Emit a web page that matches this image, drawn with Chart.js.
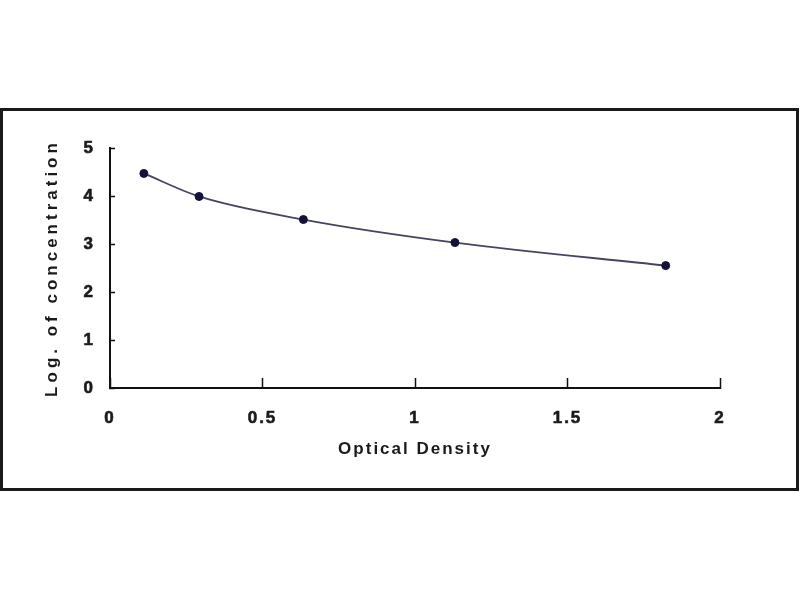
<!DOCTYPE html>
<html>
<head>
<meta charset="utf-8">
<script src="https://cdn.jsdelivr.net/npm/chart.js@4.4.1/dist/chart.umd.min.js"></script>
<style>
  html, body { margin: 0; padding: 0; background: #fff; }
  #wrap { position: absolute; left: 0; top: 0; width: 800px; height: 600px; }
</style>
</head>
<body>
<div id="wrap"><canvas id="c" width="800" height="600"></canvas></div>
<script>
// Data
const opticalDensity = [0.111, 0.292, 0.634, 1.131, 1.822];
const logConcentration = [4.47, 3.99, 3.51, 3.03, 2.55];
const xTickValues = [0, 0.5, 1, 1.5, 2];
const yTickValues = [0, 1, 2, 3, 4, 5];
const xTitle = 'Optical Density';
const yTitle = 'Log. of concentration';

const points = opticalDensity.map((x, i) => ({ x: x, y: logConcentration[i] }));

const FONT = '"Liberation Sans", Arial, Helvetica, sans-serif';

const framePlugin = {
  id: 'frame',
  beforeDraw(chart) {
    const ctx = chart.ctx;
    ctx.save();
    ctx.fillStyle = '#fff';
    ctx.fillRect(0, 0, chart.width, chart.height);
    ctx.strokeStyle = '#1a1a1a';
    ctx.lineWidth = 3;
    ctx.strokeRect(1.5, 109.5, 796, 380);
    ctx.restore();
    ctx.letterSpacing = '2px';
    const ys = chart.scales.y;
    if (ys && !ys._wrappedTitle) {
      const orig = ys.drawTitle.bind(ys);
      ys.drawTitle = function () {
        const prev = chart.ctx.letterSpacing;
        chart.ctx.letterSpacing = '4px';
        orig();
        chart.ctx.letterSpacing = prev;
      };
      ys._wrappedTitle = true;
    }
  },
  afterDraw(chart) {
    chart.ctx.letterSpacing = '0px';
  }
};

new Chart(document.getElementById('c'), {
  type: 'scatter',
  data: {
    datasets: [{
      data: points,
      showLine: true,
      borderColor: '#45455f',
      borderWidth: 1.8,
      cubicInterpolationMode: 'monotone',
      pointStyle: 'circle',
      pointRadius: 4,
      pointBackgroundColor: '#12123a',
      pointBorderColor: '#12123a',
      pointBorderWidth: 1,
      clip: false
    }]
  },
  options: {
    responsive: false,
    animation: false,
    devicePixelRatio: 1,
    layout: { padding: { top: 148, left: 30, right: 80, bottom: 132 } },
    plugins: { legend: { display: false }, tooltip: { enabled: false } },
    scales: {
      x: {
        type: 'linear',
        min: 0, max: 2,
        afterBuildTicks(scale) { scale.ticks = xTickValues.map(v => ({ value: v })); },
        afterFit(scale) { scale.height = 80; },
        grid: {
          display: true, drawOnChartArea: false, drawTicks: true,
          tickLength: -10, tickWidth: 1.5, tickColor: '#111'
        },
        border: { display: true, color: '#111', width: 2 },
        ticks: {
          padding: 30, color: '#1a1a1a', maxRotation: 0,
          textStrokeColor: '#1a1a1a', textStrokeWidth: 0.6,
          font: { family: FONT, size: 17, weight: 'bold' },
          callback: v => String(v)
        },
        title: {
          display: true, text: xTitle, color: '#1a1a1a',
          font: { family: FONT, size: 17, weight: 'bold' },
          padding: { top: 0, bottom: 8 }
        }
      },
      y: {
        type: 'linear',
        min: 0, max: 5,
        afterBuildTicks(scale) { scale.ticks = yTickValues.map(v => ({ value: v })); },
        afterFit(scale) { scale.width = 80; },
        grid: {
          display: true, drawOnChartArea: false, drawTicks: true,
          tickLength: -5, tickWidth: 1.5, tickColor: '#111'
        },
        border: { display: true, color: '#111', width: 2 },
        ticks: {
          padding: 20, color: '#1a1a1a',
          textStrokeColor: '#1a1a1a', textStrokeWidth: 0.6,
          font: { family: FONT, size: 17, weight: 'bold' },
          callback: v => String(v)
        },
        title: {
          display: true, text: yTitle, color: '#1a1a1a',
          font: { family: FONT, size: 17, weight: 'bold' },
          padding: { top: 12, bottom: 0 }
        }
      }
    }
  },
  plugins: [framePlugin]
});
</script>
</body>
</html>
